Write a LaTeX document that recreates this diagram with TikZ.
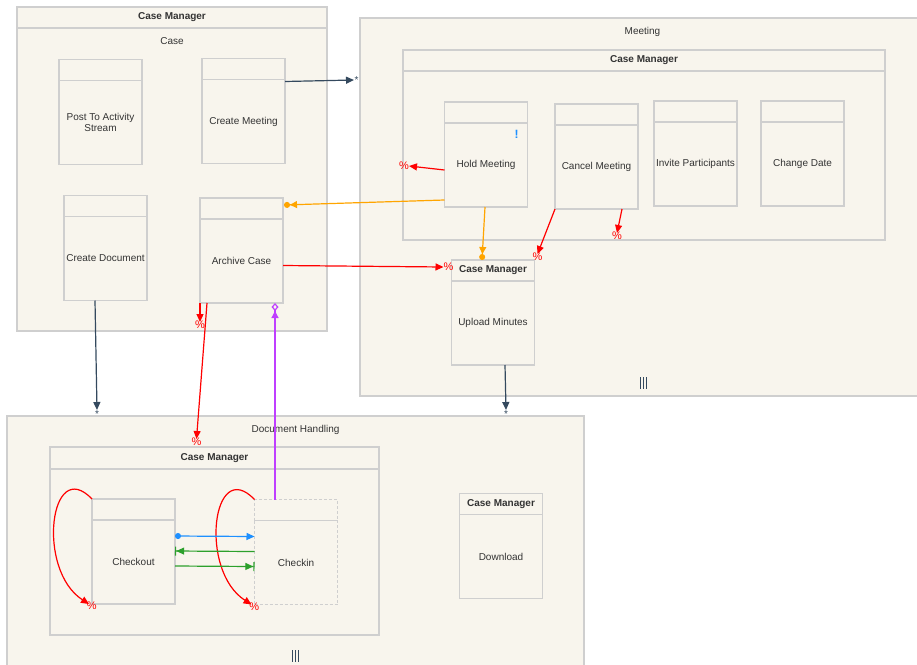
\documentclass[tikz,border=0pt]{standalone}
\usepackage{fontspec}
\setmainfont{Liberation Sans}
\usetikzlibrary{arrows.meta,positioning}
\definecolor{poolfill}{HTML}{F8F5ED}
\definecolor{bordergray}{HTML}{CFCFCF}
\definecolor{txt}{HTML}{333333}
\definecolor{navy}{HTML}{34495E}
\definecolor{orangeflow}{HTML}{FFA500}
\definecolor{purpleflow}{HTML}{BF3FFF}
\definecolor{blueflow}{HTML}{1E90FF}
\definecolor{greenflow}{HTML}{2CA02C}

\begin{document}
\begin{tikzpicture}[x=1pt,y=-1pt,
  every node/.style={font=\fontsize{10}{11.5}\selectfont, text=txt, inner sep=0pt, outer sep=0pt},
  title/.style={font=\fontsize{10}{11.5}\selectfont\bfseries},
  box/.style={draw=bordergray, fill=poolfill, line width=1.4pt, rectangle},
  pool/.style={box},
  head/.style={box, minimum width=83pt, minimum height=21pt},
  body/.style={box, minimum width=83pt, minimum height=84pt, align=center},
  sepline/.style={draw=bordergray, line width=1.4pt},
  flow/.style={line width=1.2pt, -{Triangle[length=8pt,width=7pt]}},
  navyflow/.style={flow, draw=navy},
  redflow/.style={flow, draw=red},
  pct/.style={text=red, font=\fontsize{11}{11}\selectfont},
  mult/.style={text=navy, font=\fontsize{10}{10}\selectfont}
]
\useasboundingbox (0,0) rectangle (917,664);

% pools and stages
\node[pool, minimum width=310pt, minimum height=324pt] (casep) at (172,169) {};
\draw[sepline] ([yshift=-21pt]casep.north west) -- ([yshift=-21pt]casep.north east);
\node[title] at ([yshift=-10.5pt]casep.north) {Case Manager};
\node at ([yshift=-34pt]casep.north) {Case};

\node[pool, minimum width=565pt, minimum height=378pt] (meetp) at (642.5,207) {};
\node at ([yshift=-14pt]meetp.north) {Meeting};
\node[pool, minimum width=482pt, minimum height=190pt] (meetst) at (644,145) {};
\draw[sepline] ([yshift=-21pt]meetst.north west) -- ([yshift=-21pt]meetst.north east);
\node[title] at ([yshift=-10.5pt]meetst.north) {Case Manager};

\node[pool, minimum width=577pt, minimum height=256pt] (docp) at (295.5,544) {};
\node at ([yshift=-14pt]docp.north) {Document Handling};
\node[pool, minimum width=329pt, minimum height=188pt] (docst) at (214.5,541) {};
\draw[sepline] ([yshift=-22pt]docst.north west) -- ([yshift=-22pt]docst.north east);
\node[title] at ([yshift=-11pt]docst.north) {Case Manager};

\foreach \dx in {-3,0,3} {
  \draw[navy, line width=0.9pt] (643+\dx,377) -- (643+\dx,389);
  \draw[navy, line width=0.9pt] (295+\dx,650) -- (295+\dx,662);
}

% tasks
\node[head] (posth) at (100.5,70) {};
\node[body, below=0pt of posth] (postb) {Post To Activity\\Stream};
\node[head] (cmeeth) at (243.5,69) {};
\node[body, below=0pt of cmeeth] (cmeetb) {Create Meeting};
\node[head] (cdoch) at (105.5,206) {};
\node[body, below=0pt of cdoch] (cdocb) {Create Document};
\node[head] (archh) at (241.5,208.5) {};
\node[body, below=0pt of archh] (archb) {Archive Case};

\node[head] (holdh) at (486,112.5) {};
\node[body, below=0pt of holdh] (holdb) {Hold Meeting};
\node[text=blueflow, font=\fontsize{12}{12}\selectfont\bfseries] at ([xshift=-11pt,yshift=-11pt]holdb.north east) {!};
\node[head] (cancelh) at (596.5,114.5) {};
\node[body, below=0pt of cancelh] (cancelb) {Cancel Meeting};
\node[head] (inviteh) at (695.5,111.5) {};
\node[body, below=0pt of inviteh] (inviteb) {Invite Participants};
\node[head] (changeh) at (802.5,111.5) {};
\node[body, below=0pt of changeh] (changeb) {Change Date};
\node[head, title] (uploadh) at (493,270.5) {Case Manager};
\node[body, below=0pt of uploadh] (uploadb) {Upload Minutes};

\node[head] (checkouth) at (133.5,509.5) {};
\node[body, below=0pt of checkouth] (checkoutb) {Checkout};
\node[head, dashed, dash pattern=on 3pt off 2pt] (checkinh) at (296,510) {};
\node[body, dashed, dash pattern=on 3pt off 2pt, below=0pt of checkinh] (checkinb) {Checkin};
\node[head, title] (downloadh) at (501,504) {Case Manager};
\node[body, below=0pt of downloadh] (downloadb) {Download};

% loose ends
\coordinate (meetin) at (354,80);
\coordinate (holdout) at (409,166);
\coordinate (cancelout) at (617,233);
\coordinate (archout) at (200,322);
\coordinate (archbot) at ([xshift=33.5pt]archb.south);
\coordinate (docin1) at (97,410);
\coordinate (docin2) at (506,410);

% connectors
\draw[navyflow] ([yshift=-2pt]cmeetb.north east) -- (meetin) node[mult, right=0.5pt] {*};
\draw[navyflow] ([xshift=-10.5pt]cdocb.south) -- (docin1) node[mult, below=0.5pt] {*};
\draw[navyflow] ([xshift=12pt]uploadb.south) -- (docin2) node[mult, below=0.5pt] {*};

\draw[line width=1.2pt, draw=orangeflow, -{Triangle[length=7pt,width=7pt] Circle[length=6pt]}]
  ([yshift=-35pt]holdb.west) -- ([xshift=1pt,yshift=3.5pt]archh.east);
\draw[line width=1.2pt, draw=orangeflow, -{Triangle[length=7pt,width=7pt] Circle[length=6pt]}]
  ([xshift=-1pt]holdb.south) -- ([xshift=-11pt]uploadh.north);

\draw[redflow] ([yshift=-5pt]holdb.west) -- (holdout) node[pct, left=0pt] {\%};
\draw[redflow] (cancelb.south west) -- ([xshift=3pt,yshift=6pt]uploadh.north east) node[pct, below=-1pt] {\%};
\draw[redflow] ([xshift=25.5pt]cancelb.south) -- (cancelout) node[pct, below=-1pt] {\%};
\draw[redflow] ([yshift=-4.5pt]archb.east) -- ([xshift=-8pt,yshift=3.5pt]uploadh.west) node[pct, right=0pt] {\%};
\draw[redflow] (archb.south west) -- (archout) node[pct, below=-1pt] {\%};
\draw[redflow] ([xshift=7pt]archb.south west) -- ([xshift=-18pt,yshift=8pt]docst.north) node[pct, below=-1pt] {\%};

\draw[line width=1.2pt, draw=purpleflow, -{Triangle[length=7pt,width=7pt] Diamond[open,length=8pt,width=7pt]}]
  ([xshift=-21pt]checkinh.north) -- (archbot);

\draw[redflow] (checkouth.north west) .. controls +(-42,-44) and +(-53,-34) .. ([xshift=-3pt]checkoutb.south west) node[pct, below right=-3pt] {\%};
\draw[redflow] (checkinh.north west) .. controls +(-42,-44) and +(-53,-34) .. ([xshift=-3pt]checkinb.south west) node[pct, below right=-3pt] {\%};

\draw[line width=1.2pt, draw=blueflow, {Circle[length=6pt]}-{Triangle[length=8pt,width=7pt]}]
  ([yshift=26pt]checkoutb.east) -- ([yshift=26pt]checkinb.west);
\draw[line width=1.2pt, draw=greenflow, -{Triangle[length=8pt,width=7pt] Bar[width=9pt]}]
  ([yshift=11pt]checkinb.west) -- ([yshift=11pt]checkoutb.east);
\draw[line width=1.2pt, draw=greenflow, -{Triangle[length=8pt,width=7pt] Bar[width=9pt]}]
  ([yshift=-4pt]checkoutb.east) -- ([yshift=-4pt]checkinb.west);
\end{tikzpicture}
\end{document}
